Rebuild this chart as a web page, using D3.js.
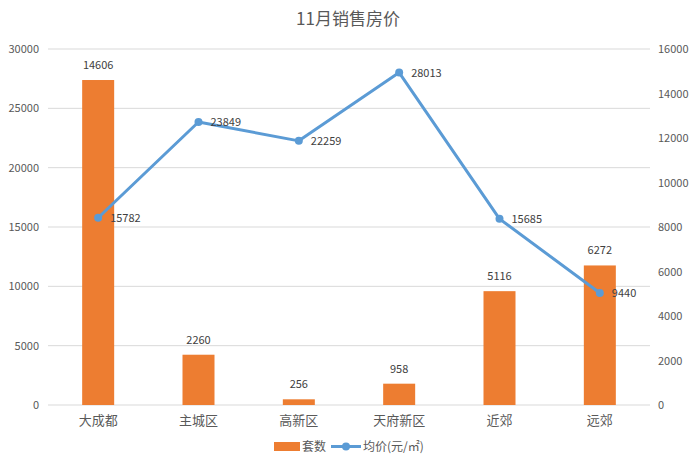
<!DOCTYPE html>
<html>
<head>
<meta charset="utf-8">
<script src="https://cdn.jsdelivr.net/npm/d3@7"></script>
<style>
body{margin:0;background:#fff;}
text{font-family:"Microsoft YaHei","Noto Sans CJK SC",sans-serif;}
</style>
</head>
<body>
<div id="chart"></div>
<script>
// data
var categories = ["大成都","主城区","高新区","天府新区","近郊","远郊"];
var counts = [14606,2260,256,958,5116,6272];      // 套数 (right axis)
var prices = [15782,23849,22259,28013,15685,9440]; // 均价 (left axis)
var leftTicks = [0,5000,10000,15000,20000,25000,30000];
var rightTicks = [0,2000,4000,6000,8000,10000,12000,14000,16000];

var w = 695, h = 465;
var svg = d3.select("#chart").append("svg").attr("width", w).attr("height", h);
var padL = 48, padR = 650, padT = 49, padB = 405;
var txt = "#595959";

var x = d3.scaleBand().domain(categories).range([padL, padR]);
var yL = d3.scaleLinear().domain([0,30000]).range([padB, padT]);
var yR = d3.scaleLinear().domain([0,16000]).range([padB, padT]);
var cx = (d,i)=>x(categories[i])+x.bandwidth()/2;

// title
svg.append("text").attr("x", 348).attr("y", 25).attr("text-anchor","middle")
    .style("font-size","17px").style("fill",txt).text("11月销售房价");

// grid lines
svg.selectAll(".grid").data(leftTicks).enter().append("line")
    .attr("x1", padL).attr("x2", padR)
    .attr("y1", d=>yL(d)).attr("y2", d=>yL(d))
    .attr("stroke","#d9d9d9").attr("stroke-width",1);

// left axis labels
svg.selectAll(".lt").data(leftTicks).enter().append("text")
    .attr("x", 39).attr("y", d=>yL(d)+4).attr("text-anchor","end")
    .style("font-size","11px").style("fill",txt).text(d=>d);

// right axis labels
svg.selectAll(".rt").data(rightTicks).enter().append("text")
    .attr("x", 658).attr("y", d=>yR(d)+4)
    .style("font-size","11px").style("fill",txt).text(d=>d);

// category labels
svg.selectAll(".cat").data(categories).enter().append("text")
    .attr("x", d=>x(d)+x.bandwidth()/2).attr("y", 425).attr("text-anchor","middle")
    .style("font-size","13px").style("fill",txt).text(d=>d);

// bars
var bw = 32;
svg.selectAll(".bar").data(counts).enter().append("rect")
    .attr("x",(d,i)=>cx(d,i)-bw/2)
    .attr("y", d=>yR(d)).attr("width", bw).attr("height", d=>padB-yR(d))
    .attr("fill","#ed7d31");

svg.selectAll(".blab").data(counts).enter().append("text")
    .attr("x", cx)
    .attr("y", d=>yR(d)-11).attr("text-anchor","middle")
    .style("font-size","11px").style("fill","#404040").text(d=>d);

// line
var line = d3.line().x(cx).y(d=>yL(d));
svg.append("path").datum(prices).attr("d", line)
    .attr("fill","none").attr("stroke","#5b9bd5").attr("stroke-width",3)
    .attr("stroke-linejoin","round");

svg.selectAll(".pt").data(prices).enter().append("circle")
    .attr("cx", cx).attr("cy", d=>yL(d))
    .attr("r",4).attr("fill","#5b9bd5");

svg.selectAll(".plab").data(prices).enter().append("text")
    .attr("x",(d,i)=>cx(d,i)+12)
    .attr("y", d=>yL(d)+4)
    .style("font-size","11px").style("fill","#404040").text(d=>d);

// legend
var lg = svg.append("g");
lg.append("rect").attr("x",274).attr("y",442).attr("width",26).attr("height",9).attr("fill","#ed7d31");
lg.append("text").attr("x",302).attr("y",451).style("font-size","12px").style("fill",txt).text("套数");
lg.append("line").attr("x1",331).attr("x2",361).attr("y1",446.5).attr("y2",446.5)
    .attr("stroke","#5b9bd5").attr("stroke-width",3);
lg.append("circle").attr("cx",346).attr("cy",446.5).attr("r",4).attr("fill","#5b9bd5");
lg.append("text").attr("x",363).attr("y",451).style("font-size","12px").style("fill",txt).text("均价(元/㎡)");
</script>
</body>
</html>
